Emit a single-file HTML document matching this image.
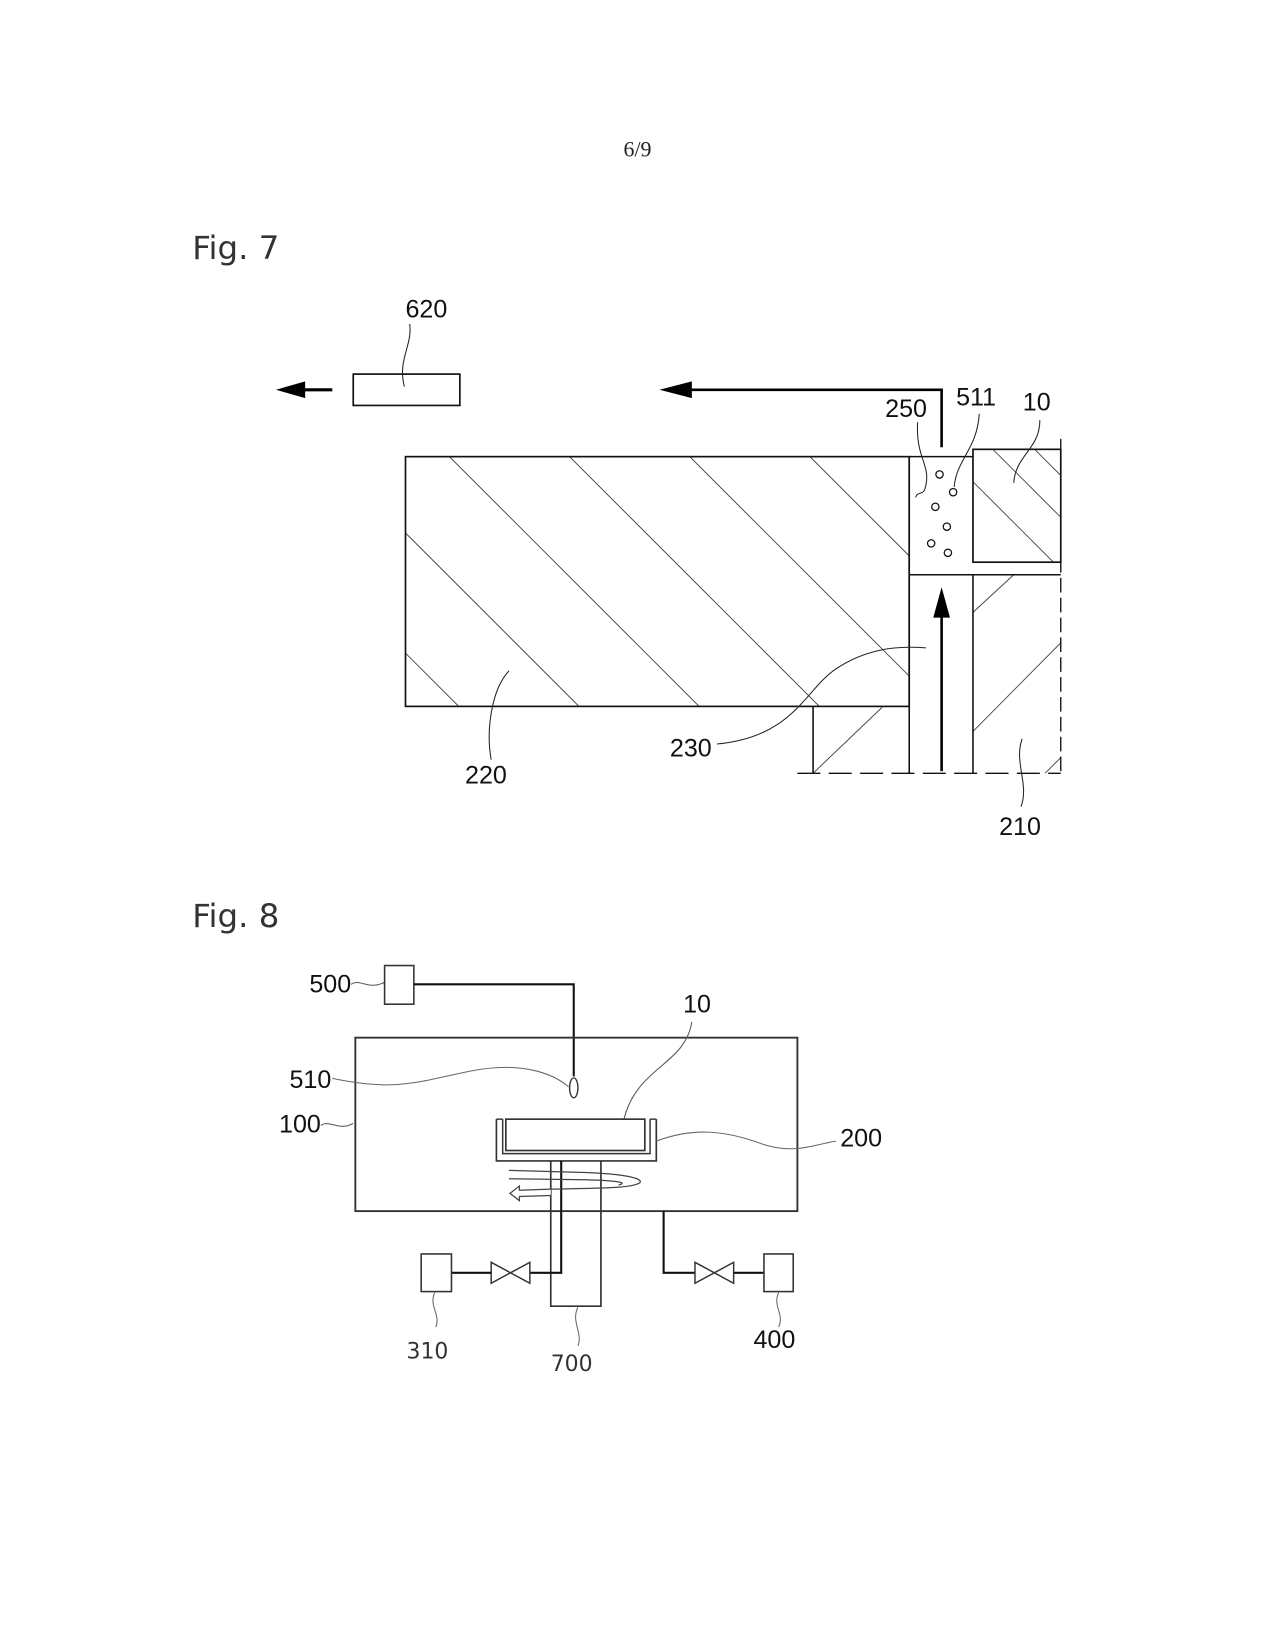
<!DOCTYPE html>
<html><head><meta charset="utf-8"><style>
html,body{margin:0;padding:0;background:#fff;}
svg{display:block;}
.l{font-family:"Liberation Sans Narrow","Liberation Sans",sans-serif;font-size:24px;fill:#111;}
.t{font-family:"DejaVu Sans","Liberation Sans",sans-serif;font-size:21px;fill:#333;}
</style></head><body>
<svg width="1275" height="1650" viewBox="0 0 1220 1579" preserveAspectRatio="none" xmlns="http://www.w3.org/2000/svg">
<defs>
<clipPath id="c220"><rect x="388" y="437" width="482" height="239"/></clipPath>
<clipPath id="c10"><rect x="931" y="430" width="84" height="108"/></clipPath>
<clipPath id="c210"><rect x="931" y="550" width="84" height="190"/></clipPath>
<clipPath id="cll"><rect x="778" y="676" width="92" height="64"/></clipPath>
</defs>
<rect width="1220" height="1579" fill="#fff"/>
<text x="610" y="150" text-anchor="middle" font-family="Liberation Serif,serif" font-size="21" fill="#222">6/9</text>

<!-- Fig 7 -->
<text x="184" y="248" font-family="DejaVu Sans,Liberation Sans,sans-serif" font-size="31" fill="#333">Fig. 7</text>
<text class="l" x="408" y="304" text-anchor="middle">620</text>
<path d="M392,310 C395,330 380,345 387,370" fill="none" stroke="#222" stroke-width="1"/>
<rect x="338" y="358" width="102" height="30" fill="none" stroke="#111" stroke-width="1.6"/>
<line x1="282" y1="373" x2="318" y2="373" stroke="#000" stroke-width="3"/>
<polygon points="264,373 292,365 292,381" fill="#000"/>
<polyline points="901,428 901,373 650,373" fill="none" stroke="#000" stroke-width="2.5"/>
<polygon points="631,373 662,365 662,381" fill="#000"/>

<g stroke="#444" stroke-width="0.9" clip-path="url(#c220)">
<line x1="200" y1="437" x2="500" y2="737"/>
<line x1="315" y1="437" x2="615" y2="737"/>
<line x1="430" y1="437" x2="730" y2="737"/>
<line x1="545" y1="437" x2="845" y2="737"/>
<line x1="660" y1="437" x2="960" y2="737"/>
<line x1="775" y1="437" x2="1075" y2="737"/>
</g>
<rect x="388" y="437" width="482" height="239" fill="none" stroke="#111" stroke-width="1.6"/>
<g stroke="#444" stroke-width="0.9" clip-path="url(#c10)">
<line x1="950" y1="430" x2="1060" y2="540"/>
<line x1="900" y1="430" x2="1010" y2="540"/>
<line x1="990" y1="430" x2="1100" y2="540"/>
</g>
<rect x="931" y="430" width="84" height="108" fill="none" stroke="#111" stroke-width="1.6"/>
<g stroke="#444" stroke-width="0.9" clip-path="url(#c210)">
<line x1="931" y1="586" x2="970" y2="550"/>
<line x1="931" y1="700" x2="1030" y2="600"/>
<line x1="1000" y1="740" x2="1030" y2="710"/>
</g>
<g stroke="#444" stroke-width="0.9" clip-path="url(#cll)">
<line x1="778" y1="740" x2="845" y2="676"/>
</g>
<polyline points="778,676 778,740" fill="none" stroke="#111" stroke-width="1.5"/>
<line x1="870" y1="437" x2="870" y2="740" stroke="#111" stroke-width="1.5"/>
<line x1="931" y1="550" x2="931" y2="740" stroke="#111" stroke-width="1.5"/>
<line x1="870" y1="550" x2="1015" y2="550" stroke="#111" stroke-width="1.5"/>
<line x1="870" y1="437" x2="931" y2="437" stroke="#111" stroke-width="1.5"/>
<line x1="1015" y1="420" x2="1015" y2="740" stroke="#111" stroke-width="1.3" stroke-dasharray="14,5"/>
<line x1="763" y1="740" x2="1015" y2="740" stroke="#111" stroke-width="1.3" stroke-dasharray="22,8"/>
<line x1="901" y1="738" x2="901" y2="585" stroke="#000" stroke-width="2.5"/>
<polygon points="901,562 893,591 909,591" fill="#000"/>
<g fill="none" stroke="#111" stroke-width="1.2">
<circle cx="899" cy="454" r="3.5"/><circle cx="912" cy="471" r="3.5"/><circle cx="895" cy="485" r="3.5"/>
<circle cx="906" cy="504" r="3.5"/><circle cx="891" cy="520" r="3.5"/><circle cx="907" cy="529" r="3.5"/>
</g>
<g fill="none" stroke="#222" stroke-width="1">
<path d="M878,404 C876,440 892,445 885,468 C883,474 878,470 876,476"/>
<path d="M937,396 C935,430 915,440 913,466"/>
<path d="M995,402 C995,430 972,435 970,462"/>
<path d="M977,772 C985,750 970,730 978,707"/>
<path d="M470,727 C465,700 470,660 487,642"/>
<path d="M686,712 C760,705 770,660 800,640 C830,620 860,618 886,620"/>
</g>
<text class="l" x="867" y="399" text-anchor="middle">250</text>
<text class="l" x="934" y="388" text-anchor="middle">511</text>
<text class="l" x="992" y="393" text-anchor="middle">10</text>
<text class="l" x="976" y="799" text-anchor="middle">210</text>
<text class="l" x="465" y="750" text-anchor="middle">220</text>
<text class="l" x="661" y="724" text-anchor="middle">230</text>

<!-- Fig 8 -->
<text x="184" y="887" font-family="DejaVu Sans,Liberation Sans,sans-serif" font-size="31" fill="#333">Fig. 8</text>
<text class="l" x="316" y="950" text-anchor="middle">500</text>
<path d="M336,942 C345,936 352,948 368,940" fill="none" stroke="#555" stroke-width="1"/>
<rect x="368" y="924" width="28" height="37" fill="none" stroke="#333" stroke-width="1.5"/>
<polyline points="396,942 549,942 549,1030" fill="none" stroke="#111" stroke-width="2"/>
<ellipse cx="549" cy="1041" rx="4" ry="9.5" fill="#fff" stroke="#333" stroke-width="1.3"/>
<rect x="340" y="993" width="423" height="166" fill="none" stroke="#333" stroke-width="1.8"/>
<text class="l" x="297" y="1041" text-anchor="middle">510</text>
<path d="M318,1032 C380,1045 400,1035 450,1025 C500,1015 530,1028 544,1040" fill="none" stroke="#666" stroke-width="1"/>
<text class="l" x="287" y="1084" text-anchor="middle">100</text>
<path d="M307,1077 C315,1071 325,1083 338,1075" fill="none" stroke="#555" stroke-width="1"/>
<text class="l" x="667" y="969" text-anchor="middle">10</text>
<path d="M662,978 C655,1020 610,1020 597,1071" fill="none" stroke="#555" stroke-width="1"/>
<!-- cup -->
<polyline points="475,1071 475,1111 628,1111 628,1071" fill="none" stroke="#333" stroke-width="1.6"/>
<polyline points="481,1071 481,1104 622,1104 622,1071" fill="none" stroke="#333" stroke-width="1.4"/>
<rect x="484" y="1071" width="133" height="30" fill="none" stroke="#333" stroke-width="1.6"/>
<line x1="475" y1="1071" x2="481" y2="1071" stroke="#333" stroke-width="1.4"/>
<line x1="622" y1="1071" x2="628" y2="1071" stroke="#333" stroke-width="1.4"/>
<path d="M628,1092 C660,1080 690,1080 730,1095 C760,1105 780,1095 800,1092" fill="none" stroke="#666" stroke-width="1"/>
<text class="l" x="824" y="1097" text-anchor="middle">200</text>
<!-- shaft -->
<polyline points="527,1111 527,1250 575,1250 575,1111" fill="none" stroke="#333" stroke-width="1.6"/>
<polyline points="537,1111 537,1218 507,1218" fill="none" stroke="#111" stroke-width="2"/>
<!-- rotation arrow -->
<path d="M487,1120 L560,1122 C610,1124 618,1130 610,1133 C600,1137 575,1137 527,1138 M487,1128 L560,1129 C595,1130 600,1132 592,1134" fill="none" stroke="#444" stroke-width="1.2"/>
<path d="M527,1138 L497,1139 L497,1135 L488,1142 L497,1149 L497,1145 L527,1144" fill="#fff" stroke="#444" stroke-width="1.2"/>
<!-- left valve -->
<polygon points="470,1208 507,1228 507,1208 470,1228" fill="#fff" stroke="#333" stroke-width="1.4"/>
<line x1="432" y1="1218" x2="470" y2="1218" stroke="#111" stroke-width="2"/>
<rect x="403" y="1200" width="29" height="36" fill="none" stroke="#333" stroke-width="1.5"/>
<!-- right -->
<polyline points="635,1159 635,1218 665,1218" fill="none" stroke="#111" stroke-width="2"/>
<polygon points="665,1208 702,1228 702,1208 665,1228" fill="#fff" stroke="#333" stroke-width="1.4"/>
<line x1="702" y1="1218" x2="731" y2="1218" stroke="#111" stroke-width="2"/>
<rect x="731" y="1200" width="28" height="36" fill="none" stroke="#333" stroke-width="1.5"/>
<g fill="none" stroke="#666" stroke-width="1">
<path d="M416,1237 C410,1250 422,1258 417,1270"/>
<path d="M553,1251 C546,1265 558,1275 553,1288"/>
<path d="M745,1237 C739,1250 751,1258 745,1270"/>
</g>
<text class="t" x="409" y="1300" text-anchor="middle">310</text>
<text class="t" x="547" y="1312" text-anchor="middle">700</text>
<text class="l" x="741" y="1290" text-anchor="middle">400</text>
</svg>
</body></html>
